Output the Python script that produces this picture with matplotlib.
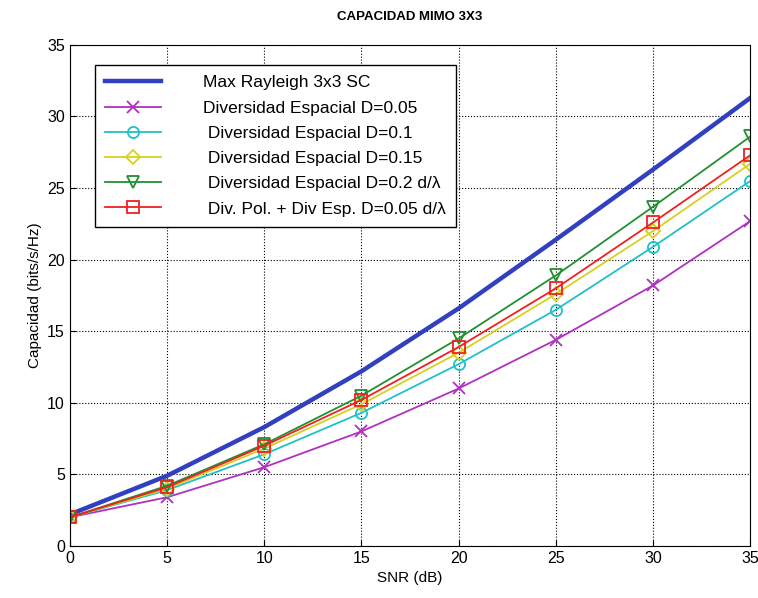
import matplotlib.pyplot as plt
import numpy as np

plt.rcParams["font.family"] = ["Liberation Sans", "DejaVu Sans"]

snr = [0, 5, 10, 15, 20, 25, 30, 35]
rayleigh = [2.2, 4.9, 8.3, 12.2, 16.6, 21.4, 26.3, 31.3]
d005 = [2.0, 3.4, 5.5, 8.0, 11.0, 14.4, 18.2, 22.7]
d01 = [2.0, 3.9, 6.4, 9.3, 12.7, 16.5, 20.9, 25.5]
d015 = [2.0, 4.0, 6.8, 9.9, 13.5, 17.6, 22.0, 26.7]
d02 = [2.0, 4.2, 7.1, 10.5, 14.5, 18.9, 23.7, 28.6]
divpol = [2.0, 4.1, 7.0, 10.2, 13.9, 18.0, 22.6, 27.3]

labels = ["Max Rayleigh 3x3 SC",
          "Diversidad Espacial D=0.05",
          " Diversidad Espacial D=0.1",
          " Diversidad Espacial D=0.15",
          " Diversidad Espacial D=0.2 d/\u03bb",
          " Div. Pol. + Div Esp. D=0.05 d/\u03bb"]

fig = plt.figure(figsize=(7.58, 5.98), dpi=100)
ax = fig.add_axes([0.092, 0.087, 0.898, 0.838])

ax.plot(snr, rayleigh, color="#3040c0", lw=3.2, label=labels[0])
ax.plot(snr, d005, color="#b030c0", lw=1.3, marker="x", ms=9, mew=1.3, label=labels[1])
ax.plot(snr, d01, color="#20c0c8", lw=1.3, marker="o", ms=8, mfc="none", mew=1.3, label=labels[2])
ax.plot(snr, d015, color="#d8d020", lw=1.3, marker="D", ms=7, mfc="none", mew=1.3, label=labels[3])
ax.plot(snr, d02, color="#209030", lw=1.3, marker="v", ms=9, mfc="none", mew=1.3, label=labels[4])
ax.plot(snr, divpol, color="#f02020", lw=1.3, marker="s", ms=8, mfc="none", mew=1.3, label=labels[5])

ax.set_xlim(0, 35)
ax.set_ylim(0, 35)
ax.set_xticks(range(0, 36, 5))
ax.set_yticks(range(0, 36, 5))
ax.tick_params(labelsize=11.5, direction="in", length=4)
ax.grid(True, color="black", linestyle=":", lw=0.8)
ax.set_xlabel("SNR (dB)", fontsize=11)
ax.set_ylabel("Capacidad (bits/s/Hz)", fontsize=11)
ax.set_title("CAPACIDAD MIMO 3X3", fontsize=9.5, fontweight="bold", pad=18)

ax.legend(loc="upper left", bbox_to_anchor=(0.037, 0.96), fontsize=12.5,
          fancybox=False, edgecolor="black", framealpha=1, handlelength=3.2,
          handletextpad=2.4, labelspacing=0.58, borderpad=0.6, borderaxespad=0)

fig.savefig("out.png", dpi=100)
